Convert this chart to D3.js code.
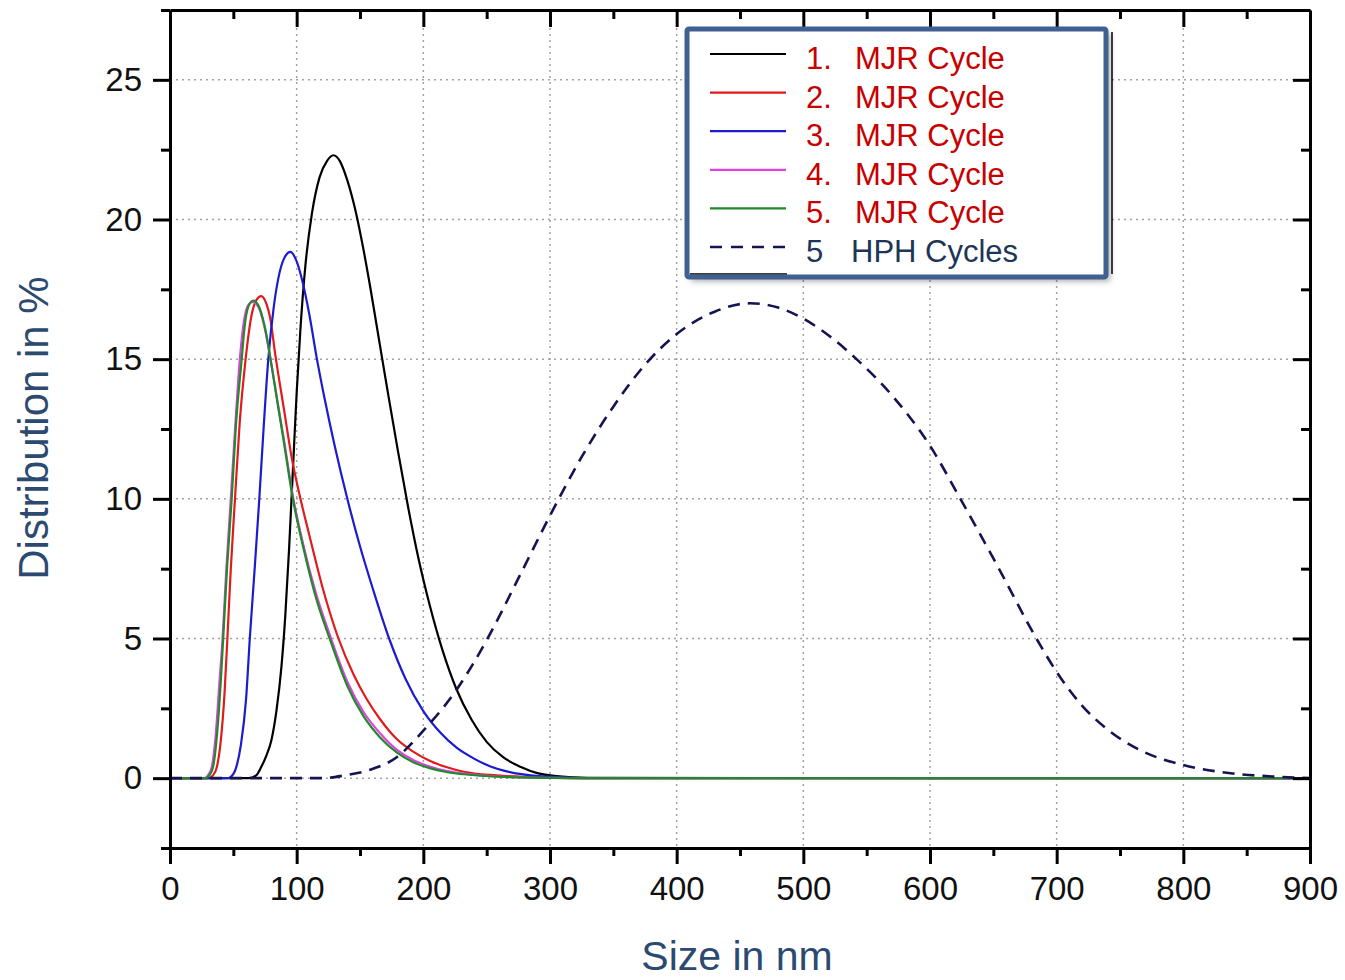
<!DOCTYPE html>
<html>
<head>
<meta charset="utf-8">
<script src="https://cdn.jsdelivr.net/npm/d3@7"></script>
<style>
	body { margin: 0; background: #fff; }
	text { font-family: 'Liberation Sans', Arial, sans-serif; }
</style>
</head>
<body>
<div id="chart"></div>
<script>
window.document.title = 'Size distribution - MJR vs HPH'

// size in nm / distribution in %
const mjr1 = [[0,0],[62,0],[68,0.1],[72,0.4],[76,0.8],[80,1.35],[84,2.4],[88,4.0],[91,5.8],[94,8.2],[97,11.0],[100,13.8],[103,16.1],[107,18.4],[112,20.2],[118,21.5],[124,22.1],[129,22.3],[134,22.1],[140,21.4],[146,20.4],[152,19.1],[158,17.6],[165,15.7],[172,13.8],[180,11.7],[188,9.7],[196,7.9],[205,6.2],[215,4.6],[226,3.2],[238,2.1],[250,1.3],[263,0.75],[277,0.4],[290,0.18],[305,0.07],[330,0.01],[900,0]]
const mjr2 = [[0,0],[30,0],[34,0.1],[37,0.4],[40,1.3],[43,3.0],[45.3,5.0],[48,7.5],[51.3,10.0],[55,12.7],[59.7,15.0],[64.5,16.6],[68,17.1],[72,17.26],[76,17.0],[79,16.5],[83,15.2],[90,13.2],[96,11.5],[103,10.0],[110,8.7],[120,6.9],[133,5.0],[145,3.7],[155,2.85],[166,2.1],[179,1.4],[192,0.95],[205,0.62],[218,0.4],[232,0.23],[258,0.1],[300,0.02],[330,0],[900,0]]
const mjr3 = [[0,0],[45,0],[48,0.05],[52,0.35],[56,1.2],[60,2.8],[63,5.0],[67,7.6],[70.5,10.0],[74,12.6],[77.6,15.0],[82,16.9],[86,18.0],[90,18.6],[95,18.84],[100,18.5],[105,17.7],[110,16.6],[116,15.0],[122,13.6],[130,11.9],[140,10.0],[150,8.3],[160,6.8],[173,5.0],[186,3.55],[200,2.4],[213,1.65],[226,1.1],[240,0.7],[253,0.42],[270,0.2],[285,0.1],[310,0.03],[340,0],[900,0]]
const mjr4 = [[0,0],[27,0],[30,0.1],[33,0.4],[36,1.5],[39,3.4],[41.5,5.0],[44.5,7.5],[48,10.0],[51.5,12.6],[55.5,15.2],[58.5,16.4],[62,16.95],[65.5,17.05],[70,16.85],[73,16.45],[76,15.85],[79,15.1],[85,13.45],[90,12.1],[97,10.1],[105,8.4],[115,6.65],[126,5.15],[140,3.45],[153,2.35],[166,1.6],[179,1.02],[192,0.65],[205,0.42],[218,0.26],[232,0.16],[258,0.06],[300,0.01],[330,0],[900,0]]
const mjr5 = [[0,0],[28,0],[31,0.1],[34,0.4],[37,1.5],[40,3.4],[42,5.0],[45,7.5],[48.7,10.0],[52,12.6],[56.6,15.0],[59,16.2],[62,16.9],[65.8,17.1],[70,16.9],[73,16.5],[76,15.9],[79,15.1],[85,13.4],[90,12.0],[97,10.0],[105,8.3],[115,6.5],[126,5.0],[140,3.3],[153,2.2],[166,1.45],[179,0.92],[192,0.57],[205,0.36],[218,0.22],[232,0.14],[258,0.05],[300,0.01],[330,0],[900,0]]
const hph5 = [[0,0],[120,0],[138,0.1],[158,0.3],[179,0.75],[200,1.7],[226,3.15],[250,4.94],[275,7.15],[300,9.4],[325,11.5],[350,13.3],[375,14.8],[400,15.9],[430,16.7],[458,17.0],[480,16.85],[500,16.45],[520,15.85],[542,15.0],[571,13.65],[600,11.9],[624,10.0],[655,7.45],[684,5.0],[700,3.8],[720,2.6],[740,1.75],[766,1.0],[800,0.47],[839,0.17],[870,0.06],[900,0]]

const seriesNames = ['1.', '2.', '3.', '4.', '5.', '5']
const seriesLabels = ['MJR Cycle', 'MJR Cycle', 'MJR Cycle', 'MJR Cycle', 'MJR Cycle', 'HPH Cycles']
const xTicks = [0, 100, 200, 300, 400, 500, 600, 700, 800, 900]
const xMinorTicks = [50, 150, 250, 350, 450, 550, 650, 750, 850]
const yTicks = [0, 5, 10, 15, 20, 25]
const yMinorTicks = [-2.5, 2.5, 7.5, 12.5, 17.5, 22.5, 27.5]

const fullWidth = 1345
const fullHeight = 980
const margin = {top: 10, right: 35, bottom: 132, left: 170}
const width = fullWidth - margin.left - margin.right
const height = fullHeight - margin.top - margin.bottom

const series = [
	{data: mjr1, color: '#000000', dash: null},
	{data: mjr2, color: '#e01b1b', dash: null},
	{data: mjr3, color: '#1c1ccf', dash: null},
	{data: mjr4, color: '#e040e0', dash: null},
	{data: mjr5, color: '#1f8a2a', dash: null},
	{data: hph5, color: '#141452', dash: '12,8'},
]

const x = d3.scaleLinear().domain([0, 900]).range([0, width])
const y = d3.scaleLinear().domain([-2.5, 27.5]).range([height, 0])

const svg = d3
	.select('#chart')
	.append('svg')
	.attr('width', fullWidth)
	.attr('height', fullHeight)
	.style('display', 'block')

const g = svg.append('g').attr('transform', `translate(${margin.left}, ${margin.top})`)

drawGrid()
drawCurves()
drawAxes()
drawLegend()
drawTitles()

function drawGrid() {
	const grid = g.append('g').attr('stroke', '#a3a3a3').attr('stroke-width', 1.5).attr('stroke-dasharray', '2,4')
	grid
		.selectAll('.vgrid')
		.data(xTicks.filter((d) => d > 0 && d < 900))
		.enter()
		.append('line')
		.attr('x1', (d) => x(d))
		.attr('x2', (d) => x(d))
		.attr('y1', 0)
		.attr('y2', height)
	grid
		.selectAll('.hgrid')
		.data(yTicks)
		.enter()
		.append('line')
		.attr('x1', 0)
		.attr('x2', width)
		.attr('y1', (d) => y(d))
		.attr('y2', (d) => y(d))
}

function drawCurves() {
	const line = d3
		.line()
		.x((d) => x(d[0]))
		.y((d) => y(d[1]))
		.curve(d3.curveMonotoneX)
	g.selectAll('.curve')
		.data(series)
		.enter()
		.append('path')
		.attr('class', 'curve')
		.attr('fill', 'none')
		.attr('stroke', (d) => d.color)
		.attr('stroke-width', (d) => (d.dash ? 2.6 : 2.2))
		.attr('stroke-dasharray', (d) => d.dash)
		.attr('d', (d) => line(d.data))
}

function styleAxis(sel) {
	sel.select('.domain').attr('stroke-width', 3)
	sel.selectAll('.tick line').attr('stroke-width', 3)
	sel.selectAll('.tick text').attr('font-size', 33).attr('fill', '#111')
}

function drawAxes() {
	const bottom = g.append('g').attr('transform', `translate(0, ${height})`)
	bottom.call(d3.axisBottom(x).tickValues(xMinorTicks).tickSize(8).tickSizeOuter(0).tickFormat(''))
	bottom.append('g').call(d3.axisBottom(x).tickValues(xTicks).tickSize(16).tickSizeOuter(0).tickPadding(13))
	styleAxis(bottom)

	const top = g.append('g')
	top.call(d3.axisTop(x).tickValues(xMinorTicks).tickSize(-9).tickSizeOuter(0).tickFormat(''))
	top.append('g').call(d3.axisTop(x).tickValues(xTicks.filter((d) => d > 0 && d < 900)).tickSize(-17).tickSizeOuter(0).tickFormat(''))
	styleAxis(top)

	const left = g.append('g')
	left.call(d3.axisLeft(y).tickValues(yMinorTicks).tickSize(9).tickSizeOuter(0).tickFormat(''))
	left.append('g').call(d3.axisLeft(y).tickValues(yTicks).tickSize(17).tickSizeOuter(0).tickPadding(11))
	styleAxis(left)

	const right = g.append('g').attr('transform', `translate(${width}, 0)`)
	right.call(d3.axisRight(y).tickValues(yMinorTicks.filter((d) => d > -2.5 && d < 27.5)).tickSize(-9).tickSizeOuter(0).tickFormat(''))
	right.append('g').call(d3.axisRight(y).tickValues(yTicks).tickSize(-17).tickSizeOuter(0).tickFormat(''))
	styleAxis(right)

	svg.selectAll('.domain').attr('stroke', '#000')
	svg.selectAll('.tick line').attr('stroke', '#000')
}

function drawLegend() {
	const defs = svg.append('defs')
	const shadow = defs.append('filter').attr('id', 'shadow').attr('x', '-10%').attr('y', '-10%').attr('width', '130%').attr('height', '130%')
	shadow.append('feGaussianBlur').attr('in', 'SourceAlpha').attr('stdDeviation', 3)
	shadow.append('feOffset').attr('dx', 4).attr('dy', 4).attr('result', 'blur')
	shadow.append('feComponentTransfer').append('feFuncA').attr('type', 'linear').attr('slope', 0.35)
	const merge = shadow.append('feMerge')
	merge.append('feMergeNode')
	merge.append('feMergeNode').attr('in', 'SourceGraphic')

	const legend = svg.append('g')
	legend
		.append('rect')
		.attr('x', 687)
		.attr('y', 29)
		.attr('width', 419)
		.attr('height', 248)
		.attr('fill', '#fff')
		.attr('filter', 'url(#shadow)')
	legend.append('line').attr('x1', 1112).attr('x2', 1112).attr('y1', 32).attr('y2', 274).attr('stroke', '#000').attr('stroke-width', 1.5)
	legend.append('line').attr('x1', 690).attr('x2', 787).attr('y1', 274).attr('y2', 274).attr('stroke', '#000').attr('stroke-width', 1.5)
	legend
		.append('rect')
		.attr('x', 687)
		.attr('y', 29)
		.attr('width', 419)
		.attr('height', 248)
		.attr('rx', 2)
		.attr('fill', 'none')
		.attr('stroke', '#3e6191')
		.attr('stroke-width', 5)

	const row = legend
		.selectAll('.row')
		.data(series)
		.enter()
		.append('g')
		.attr('transform', (d, i) => `translate(0, ${i * 38.6})`)
	row
		.append('line')
		.attr('x1', 710)
		.attr('x2', 786)
		.attr('y1', 54)
		.attr('y2', 54)
		.attr('stroke', (d) => d.color)
		.attr('stroke-width', (d) => (d.dash ? 2.4 : 2.2))
		.attr('stroke-dasharray', (d) => (d.dash ? '12,9' : null))
	row
		.append('text')
		.attr('x', 806)
		.attr('y', 69)
		.attr('font-size', 31)
		.attr('fill', (d) => (d.dash ? '#1d3557' : '#c80000'))
		.text((d, i) => seriesNames[i])
	row
		.append('text')
		.attr('x', (d) => (d.dash ? 851 : 855))
		.attr('y', 69)
		.attr('font-size', 31)
		.attr('fill', (d) => (d.dash ? '#1d3557' : '#c80000'))
		.text((d, i) => seriesLabels[i])
}

function drawTitles() {
	svg.append('text')
		.attr('x', 737)
		.attr('y', 970)
		.attr('text-anchor', 'middle')
		.attr('font-size', 41)
		.attr('fill', '#2c4a70')
		.text('Size in nm')
	svg.append('text')
		.attr('transform', 'translate(48, 428) rotate(-90)')
		.attr('text-anchor', 'middle')
		.attr('font-size', 42)
		.attr('fill', '#2c4a70')
		.text('Distribution in %')
}
</script>
</body>
</html>
